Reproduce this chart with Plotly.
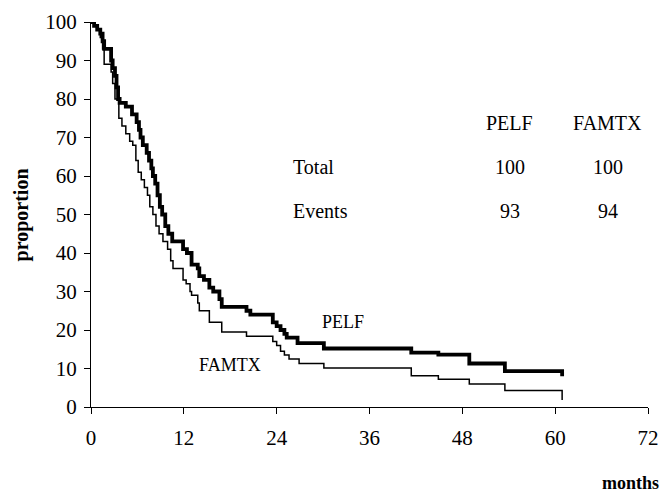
import plotly.graph_objects as go

# Kaplan-Meier step data (months, percent surviving)
pelf_t = [0, 0.4, 0.8, 1.2, 1.5, 1.7, 2.6, 2.8, 3.1, 3.3, 3.5, 3.7, 4.5, 5.3, 5.9, 6.2, 6.4, 6.7,
          7.2, 7.5, 7.8, 8.0, 8.3, 8.6, 8.9, 9.2, 9.6, 10.0, 10.5, 11.9, 12.4, 13.0, 13.8, 14.0,
          14.6, 15.3, 15.8, 16.6, 16.9, 20.1, 20.6, 23.5, 24.0, 24.5, 25.0, 25.3, 26.7, 30.1,
          41.4, 44.9, 48.9, 53.5, 60.9, 60.9]
pelf_s = [100, 99, 98, 97, 95, 93, 90, 88, 86, 83, 80, 79, 78, 76, 74, 72, 70, 68,
          66, 64, 62, 60, 58, 55, 52, 50, 47, 45, 43, 41, 40, 37, 36, 34,
          33, 31, 30, 28, 26, 25, 24, 22, 21, 20, 19, 18, 16.6, 15.2,
          14.1, 13.6, 11.3, 9.3, 9.3, 8.0]

famtx_t = [0, 0.4, 0.8, 1.2, 1.5, 1.7, 2.6, 2.8, 3.1, 3.6, 4.0, 4.5, 5.0, 5.4, 5.8, 6.1, 6.5,
           6.9, 7.3, 7.6, 8.0, 8.4, 8.8, 9.3, 9.9, 10.3, 10.6, 11.9, 12.3, 12.8, 13.0, 13.8,
           14.0, 15.3, 16.9, 20.1, 23.5, 24.0, 24.5, 25.0, 25.6, 26.9, 30.1, 41.4, 44.9, 48.9,
           53.5, 60.9, 60.9]
famtx_s = [100, 99, 98, 96, 93, 89, 87, 84, 80, 75, 73, 71, 69, 68, 64, 61, 59,
           57, 55, 52, 50, 47, 45, 43, 41, 38, 36, 33, 32, 30, 29, 27,
           25, 22, 19.5, 18.4, 17, 16, 14.5, 13.5, 12.5, 11.3, 10.1, 8.1, 7.2, 6.0,
           4.3, 4.3, 1.8]

x_ticks = [0, 12, 24, 36, 48, 60, 72]
y_ticks = [0, 10, 20, 30, 40, 50, 60, 70, 80, 90, 100]

table_cols = ["PELF", "FAMTX"]
table_rows = ["Total", "Events"]
table_vals = [[100, 100], [93, 94]]

FONT = "Liberation Serif, Times New Roman, serif"

fig = go.Figure()
fig.add_trace(go.Scatter(x=famtx_t, y=famtx_s, mode="lines", line=dict(color="black", width=1.5, shape="hv"),
                         name="FAMTX", showlegend=False))
fig.add_trace(go.Scatter(x=pelf_t, y=pelf_s, mode="lines", line=dict(color="black", width=3.8, shape="hv"),
                         name="PELF", showlegend=False))


def txt(x, y, text, size=20, xref="paper", yref="paper", xanchor="center", angle=0):
    return dict(x=x, y=y, xref=xref, yref=yref, text=text, showarrow=False,
                xanchor=xanchor, yanchor="middle", textangle=angle,
                font=dict(size=size, family=FONT, color="black"))


ann = []
col_x = [0.752, 0.928]
for cx, c in zip(col_x, table_cols):
    ann.append(txt(cx, 0.738, c))
row_y = [0.624, 0.509]
for ry, r, vals in zip(row_y, table_rows, table_vals):
    ann.append(txt(0.359, ry, r, xanchor="left"))
    for cx, v in zip(col_x, vals):
        ann.append(txt(cx, ry, str(v)))
# curve labels
ann.append(txt(32.6, 22, "PELF", size=18, xref="x", yref="y"))
ann.append(txt(18.0, 10.9, "FAMTX", size=18, xref="x", yref="y"))
# axis titles
ann.append(txt(-0.124, 0.5, "<b>proportion</b>", size=20, angle=-90))
ann.append(txt(0.968, -0.197, "<b>months</b>", size=18))

fig.update_layout(
    width=662, height=493,
    margin=dict(l=91, r=14, t=22, b=86, autoexpand=False),
    paper_bgcolor="white", plot_bgcolor="white",
    font=dict(family=FONT, size=21, color="black"),
    annotations=ann,
    xaxis=dict(range=[0, 72], tickvals=x_ticks, ticktext=[str(v) for v in x_ticks],
               showgrid=False, zeroline=False, showline=True, linecolor="black", linewidth=1,
               ticks="outside", ticklen=6, tickcolor="black", ticklabelstandoff=6,
               automargin=False, tickfont=dict(size=21, family=FONT)),
    yaxis=dict(range=[0, 100], tickvals=y_ticks, ticktext=[str(v) for v in y_ticks],
               showgrid=False, zeroline=False, showline=True, linecolor="black", linewidth=1,
               ticks="outside", ticklen=6, tickcolor="black", ticklabelstandoff=3,
               automargin=False, tickfont=dict(size=21, family=FONT)),
)

# remove the default page margin so the 662x493 figure fills the window exactly
fig.write_html("out.html", config={"displayModeBar": False},
               post_script="document.body.style.margin='0';document.body.style.overflow='hidden';")
